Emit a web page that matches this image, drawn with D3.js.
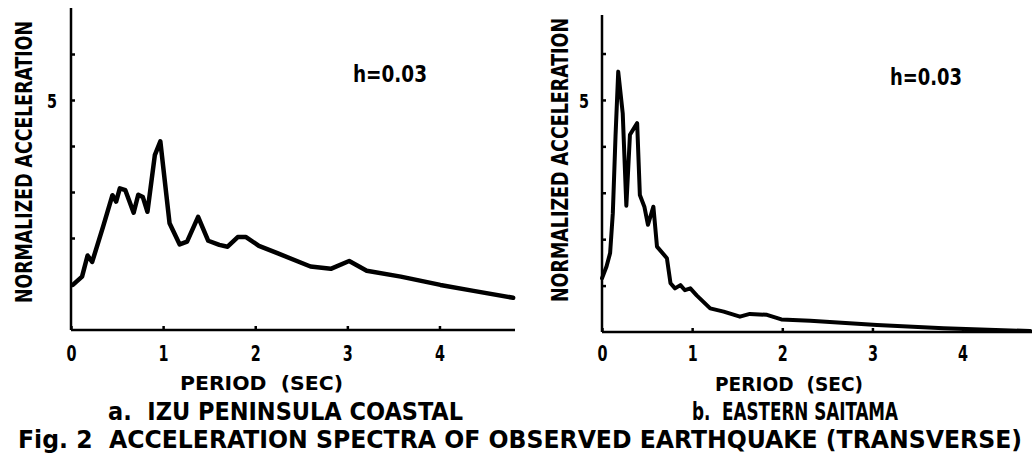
<!DOCTYPE html>
<html>
<head>
<meta charset="utf-8">
<script src="https://cdn.jsdelivr.net/npm/d3@7"></script>
<style>
    body { margin: 0; background: #fff; }
    svg { display: block; }
    text {
        font-family: 'DejaVu Sans Condensed', 'DejaVu Sans', sans-serif;
        font-weight: bold;
        fill: #000;
        white-space: pre;
    }
    .axis path, .axis line { stroke: #000; stroke-width: 2.5; }
    .spectrum { fill: none; stroke: #000; stroke-linejoin: round; stroke-linecap: round; }
</style>
</head>
<body>
<div id="chart"></div>
<script>
// a. Izu Peninsula coastal
const izuPeriod = [0.02, 0.12, 0.18, 0.23, 0.35, 0.45, 0.49, 0.53, 0.59, 0.68, 0.73, 0.78, 0.83, 0.91, 0.97,
    1.07, 1.18, 1.26, 1.38, 1.49, 1.61, 1.70, 1.81, 1.90, 2.04, 2.24, 2.60, 2.82, 3.02, 3.21, 3.58, 4.01, 4.37, 4.80]
const izuAccel = [0.98, 1.16, 1.62, 1.48, 2.26, 2.93, 2.79, 3.08, 3.04, 2.55, 2.94, 2.89, 2.57, 3.80, 4.10,
    2.32, 1.86, 1.92, 2.46, 1.94, 1.85, 1.81, 2.02, 2.02, 1.83, 1.67, 1.38, 1.33, 1.50, 1.29, 1.16, 0.98, 0.85, 0.70]

// b. Eastern Saitama
const saitamaPeriod = [0.00, 0.05, 0.09, 0.12, 0.15, 0.18, 0.23, 0.27, 0.31, 0.39, 0.42, 0.47, 0.51, 0.57, 0.61,
    0.72, 0.76, 0.81, 0.87, 0.92, 0.98, 1.05, 1.20, 1.35, 1.53, 1.64, 1.83, 1.99, 2.31, 3.05, 3.79, 4.75]
const saitamaAccel = [1.16, 1.41, 1.70, 2.56, 4.22, 5.61, 4.71, 2.72, 4.25, 4.50, 2.95, 2.70, 2.31, 2.70, 1.84,
    1.59, 1.05, 0.94, 1.01, 0.90, 0.94, 0.79, 0.51, 0.44, 0.33, 0.39, 0.37, 0.27, 0.24, 0.15, 0.08, 0.02]

const periodTicks = [0, 1, 2, 3, 4]
const accelTicks = [1, 2, 3, 4, 5, 6]
const labeledAccel = [5]

const panels = [
    {
        period: izuPeriod, accel: izuAccel,
        xDomain: [0, 4.82], xRange: [71, 515],
        yDomain: [0, 7], yRange: [330, 8],
        yLabel: { x: 32, y: 162, len: 282 },
        five: 14, damping: { x: 353, y: 82, len: 74 },
        period_label: { x: 180, y: 390, len: 163 },
        caption: { x: 108, y: 420, len: 355, text: 'a.  IZU PENINSULA COASTAL' },
        stroke: 4.5
    },
    {
        period: saitamaPeriod, accel: saitamaAccel,
        xDomain: [0, 4.77], xRange: [602, 1032],
        yDomain: [0, 6.83], yRange: [332, 15],
        yLabel: { x: 568, y: 160, len: 284 },
        five: 13, damping: { x: 890, y: 85, len: 72 },
        period_label: { x: 715, y: 391, len: 148 },
        caption: { x: 692, y: 420, len: 206, text: 'b.  EASTERN SAITAMA' },
        stroke: 4
    }
]

const dim = { width: 1032, height: 461 }

const wrapper = d3.select('#chart')
    .append('svg')
    .attr('width', dim.width)
    .attr('height', dim.height)

wrapper.append('rect')
    .attr('width', dim.width).attr('height', dim.height)
    .attr('fill', '#fff')

panels.forEach(p => {
    const xScale = d3.scaleLinear().domain(p.xDomain).range(p.xRange)
    const yScale = d3.scaleLinear().domain(p.yDomain).range(p.yRange)

    const g = wrapper.append('g')

    // x axis, ticks pointing inward
    const xAxis = g.append('g')
        .attr('class', 'axis')
        .attr('transform', `translate(0, ${p.yRange[0]})`)
        .call(d3.axisBottom(xScale)
            .tickValues(periodTicks)
            .tickSizeInner(-4)
            .tickSizeOuter(0)
            .tickFormat(d3.format('d')))
    xAxis.selectAll('text')
        .attr('dy', null)
        .attr('y', 361 - p.yRange[0])
        .attr('textLength', 10)
        .attr('lengthAdjust', 'spacingAndGlyphs')
        .style('font-size', '21px')

    // y axis, ticks pointing inward, only "5" labelled
    const yAxis = g.append('g')
        .attr('class', 'axis')
        .attr('transform', `translate(${p.xRange[0]}, 0)`)
        .call(d3.axisLeft(yScale)
            .tickValues(accelTicks)
            .tickSizeInner(-4)
            .tickSizeOuter(0)
            .tickPadding(p.five)
            .tickFormat(d => labeledAccel.includes(d) ? d : ''))
    yAxis.selectAll('text')
        .attr('dy', '0.36em')
        .filter(d => labeledAccel.includes(d))
        .attr('textLength', 10)
        .attr('lengthAdjust', 'spacingAndGlyphs')
        .style('font-size', '20px')
    xAxis.selectAll('.domain').attr('d', `M${p.xRange[0]},0H${p.xRange[1]}`)
    yAxis.selectAll('.domain').attr('d', `M0,${p.yRange[0]}V${p.yRange[1]}`)

    const line = d3.line()
        .x((d, i) => xScale(p.period[i]))
        .y(d => yScale(d))

    g.append('path')
        .datum(p.accel)
        .attr('class', 'spectrum')
        .attr('stroke-width', p.stroke)
        .attr('d', line)

    // tall, narrow lettering: smaller font stretched across the baseline
    g.append('text')
        .attr('transform', `translate(${p.yLabel.x}, ${p.yLabel.y}) rotate(-90) scale(1, 1.2)`)
        .attr('text-anchor', 'middle')
        .attr('textLength', p.yLabel.len)
        .attr('lengthAdjust', 'spacingAndGlyphs')
        .style('font-size', '19px')
        .text('NORMALIZED ACCELERATION')

    g.append('text')
        .attr('x', p.damping.x).attr('y', p.damping.y)
        .attr('textLength', p.damping.len)
        .attr('lengthAdjust', 'spacingAndGlyphs')
        .style('font-size', '23px')
        .text('h=0.03')

    g.append('text')
        .attr('x', p.period_label.x).attr('y', p.period_label.y)
        .attr('textLength', p.period_label.len)
        .attr('lengthAdjust', 'spacingAndGlyphs')
        .style('font-size', '19px')
        .text('PERIOD  (SEC)')

    g.append('text')
        .attr('x', p.caption.x).attr('y', p.caption.y)
        .attr('textLength', p.caption.len)
        .attr('lengthAdjust', 'spacingAndGlyphs')
        .style('font-size', '24px')
        .text(p.caption.text)
})

wrapper.append('text')
    .attr('x', 18).attr('y', 448)
    .attr('textLength', 1004)
    .attr('lengthAdjust', 'spacingAndGlyphs')
    .style('font-size', '24px')
    .text('Fig. 2  ACCELERATION SPECTRA OF OBSERVED EARTHQUAKE (TRANSVERSE)')
</script>
</body>
</html>
